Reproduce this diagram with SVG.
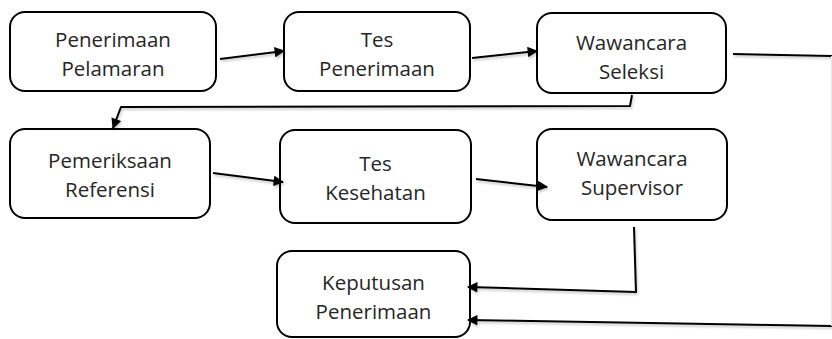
<svg xmlns="http://www.w3.org/2000/svg" width="832" height="339" viewBox="0 0 832 339">
  <defs>
    <style>
      .box { fill: #ffffff; stroke: #000000; stroke-width: 2; }
      .lbl { font-family: "Open Sans", "Noto Sans", "DejaVu Sans", sans-serif; font-size: 20.5px; fill: #262626; text-anchor: middle; }
      .wire { fill: none; stroke: #000000; stroke-width: 2; stroke-linejoin: round; }
      .arrow { marker-end: url(#head); }
    </style>
    <marker id="head" viewBox="0 0 10 10" refX="9" refY="5" markerWidth="6" markerHeight="5.2" markerUnits="strokeWidth" orient="auto">
      <path d="M0,0 L10,5 L0,10 Z" fill="#000000"/>
    </marker>
    <filter id="soft" x="-5%" y="-50%" width="110%" height="200%">
      <feDropShadow dx="1" dy="2" stdDeviation="1.2" flood-color="#000000" flood-opacity="0.22"/>
    </filter>
  </defs>

  <rect x="0" y="0" width="832" height="339" fill="#ffffff"/>

  <g id="node-penerimaan-pelamaran">
    <rect class="box" x="10" y="12" width="206" height="79" rx="15"/>
    <text class="lbl" x="113" y="47">Penerimaan</text>
    <text class="lbl" x="113" y="76">Pelamaran</text>
  </g>

  <g id="node-tes-penerimaan">
    <rect class="box" x="284" y="12" width="186" height="79" rx="15"/>
    <text class="lbl" x="377" y="47">Tes</text>
    <text class="lbl" x="377" y="76">Penerimaan</text>
  </g>

  <g id="node-wawancara-seleksi">
    <rect class="box" x="537" y="13" width="189" height="80" rx="15"/>
    <text class="lbl" x="631.5" y="50">Wawancara</text>
    <text class="lbl" x="631.5" y="79">Seleksi</text>
  </g>

  <g id="node-pemeriksaan-referensi">
    <rect class="box" x="10" y="129" width="200" height="89" rx="15"/>
    <text class="lbl" x="110" y="168">Pemeriksaan</text>
    <text class="lbl" x="110" y="197">Referensi</text>
  </g>

  <g id="node-tes-kesehatan">
    <rect class="box" x="280" y="130" width="191" height="93" rx="15"/>
    <text class="lbl" x="375.5" y="171">Tes</text>
    <text class="lbl" x="375.5" y="200">Kesehatan</text>
  </g>

  <g id="node-wawancara-supervisor">
    <rect class="box" x="537" y="129" width="190" height="91" rx="15"/>
    <text class="lbl" x="632" y="166">Wawancara</text>
    <text class="lbl" x="632" y="195">Supervisor</text>
  </g>

  <g id="node-keputusan-penerimaan">
    <rect class="box" x="277" y="251" width="193" height="86" rx="15"/>
    <text class="lbl" x="373.5" y="290">Keputusan</text>
    <text class="lbl" x="373.5" y="319">Penerimaan</text>
  </g>

  <g id="connectors" filter="url(#soft)">
    <!-- first row, left to right -->
    <path class="wire arrow" d="M220,59 L284,51"/>
    <path class="wire arrow" d="M472,58 L537,51"/>
    <!-- seleksi down and back to the start of the second row -->
    <path class="wire arrow" d="M632,95 L630,106 L121,107 L113,128"/>
    <!-- second row, left to right -->
    <path class="wire arrow" d="M213,173 L283,182"/>
    <path class="wire arrow" d="M476,179 L547,187"/>
    <!-- supervisor down to the decision -->
    <path class="wire arrow" d="M634,227 L636,292 L468,287"/>
    <!-- seleksi around the right side to the decision -->
    <path class="wire" d="M733,54 L832,56"/>
    <path class="wire arrow" d="M832,326 L468,320"/>
    <line x1="831.5" y1="56" x2="831.5" y2="326" stroke="#ececec" stroke-width="1"/>
  </g>
</svg>
